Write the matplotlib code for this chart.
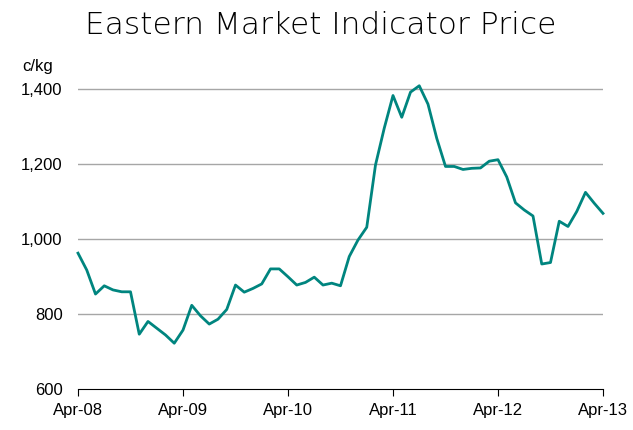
import matplotlib
matplotlib.use("Agg")
import matplotlib.pyplot as plt

plt.rcParams['font.family'] = ['Liberation Sans', 'DejaVu Sans']

tick_labels = ["Apr-08", "Apr-09", "Apr-10", "Apr-11", "Apr-12", "Apr-13"]
y_ticks = [600, 800, 1000, 1200, 1400]
prices = [962, 917, 853, 875, 864, 859, 859, 746, 780, 762,
          744, 722, 757, 823, 795, 773, 786, 812, 877, 858,
          868, 880, 920, 920, 899, 877, 884, 898, 877, 882,
          875, 953, 997, 1031, 1197, 1295, 1382, 1324, 1391, 1408,
          1359, 1268, 1193, 1193, 1185, 1188, 1189, 1207, 1211, 1165,
          1096, 1077, 1061, 933, 937, 1047, 1033, 1073, 1124, 1095,
          1068]

fig = plt.figure(figsize=(6.33, 4.30), dpi=100)
ax = fig.add_axes([78/633, 1-389/430, 525/633, (389-70)/430])

months = list(range(len(prices)))
ax.plot(months, prices, color='#00857F', lw=2.0, clip_on=False, zorder=3)

ax.set_xlim(0, 60)
ax.set_ylim(600, 1450)
ax.set_yticks(y_ticks)
ax.set_yticklabels([f"{v:,}" for v in y_ticks], fontsize=12)
ax.set_xticks(range(0, 61, 12))
ax.set_xticklabels(tick_labels, fontsize=12)
for v in y_ticks[1:]:
    ax.axhline(v, color='#A6A6A6', lw=1.0, zorder=1)

for s in ['top', 'right', 'left']:
    ax.spines[s].set_visible(False)
ax.spines['bottom'].set_color('black')
ax.spines['bottom'].set_linewidth(0.8)
ax.tick_params(axis='y', length=0, pad=11)
ax.tick_params(axis='x', direction='out', length=5, width=0.8, pad=5)

fig.text(321/633, 1-25/430, "Eastern Market Indicator Price", ha='center', va='center',
         fontsize=22.5, family=['DejaVu Sans'], fontweight='light', color='black')
fig.text(22/633, 1-67/430, "c/kg", ha='left', va='center', fontsize=12)

fig.savefig("out.png", dpi=100)
